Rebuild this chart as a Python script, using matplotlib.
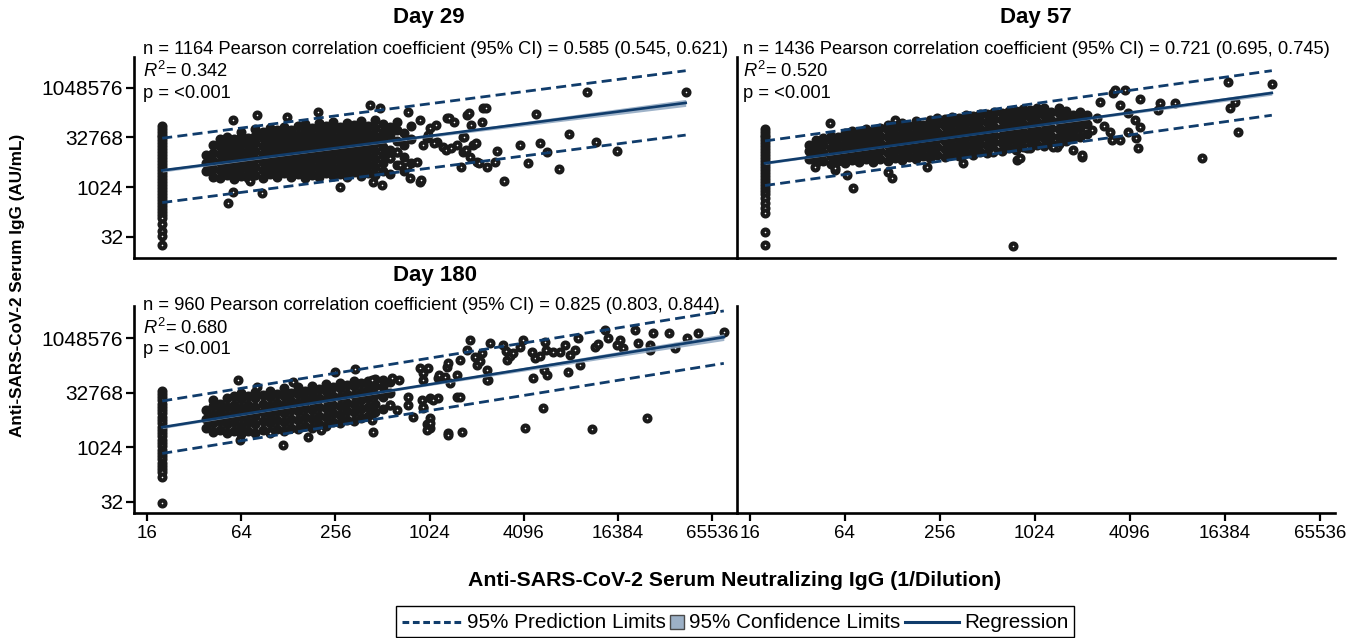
import matplotlib.pyplot as plt
import numpy as np
from matplotlib.lines import Line2D
from matplotlib.patches import Rectangle
from matplotlib.ticker import NullLocator

plt.rcParams['font.family'] = ['Liberation Sans', 'DejaVu Sans']
plt.rcParams['mathtext.fontset'] = 'custom'
plt.rcParams['mathtext.rm'] = 'Liberation Sans'
plt.rcParams['mathtext.it'] = 'Liberation Sans:italic'

LINE = '#103c6b'
BAND = '#8ea6c0'
DOT = '#1b1b1b'

x_ticks = [16, 64, 256, 1024, 4096, 16384, 65536]
y_ticks = [32, 1024, 32768, 1048576]

# all values below are log2 titres
lloq_log2 = 4.32  # neutralizing titre 20 (LLOQ column)

# ---- Day 29
d29_lloq_igg = [16.2, 15.9, 15.6, 15.3, 15.0, 14.7, 14.4, 14.1, 13.8, 13.5, 13.2, 12.9,
                12.6, 12.3, 12.0, 11.7, 11.4, 11.1, 10.8, 10.5, 10.2, 9.9, 9.6, 9.3,
                9.0, 8.7, 8.4, 8.1, 7.8, 7.5, 7.2, 6.9, 6.3, 5.6, 5.1, 4.1]
d29_cloud = [
    (5.25, [11.6, 12.4, 13.2]),
    (5.40, [11.0, 11.8, 12.6, 13.4, 14.2]),
    (5.55, [10.9, 11.7, 12.5, 13.3, 14.1, 14.8]),
    (5.70, [11.2, 12.0, 12.8, 13.6, 14.4, 15.0]),
    (5.85, [10.8, 11.6, 12.4, 13.2, 14.0, 14.8]),
    (6.00, [11.1, 11.9, 12.7, 13.5, 14.3, 15.1, 15.6]),
    (6.15, [10.9, 11.7, 12.5, 13.3, 14.1, 14.9]),
    (6.30, [11.2, 12.0, 12.8, 13.6, 14.4, 15.2, 15.9]),
    (6.45, [10.9, 11.7, 12.5, 13.3, 14.1, 14.9, 15.6]),
    (6.60, [11.3, 12.1, 12.9, 13.7, 14.5, 15.3, 16.0]),
    (6.75, [11.0, 11.8, 12.6, 13.4, 14.2, 15.0, 15.8]),
    (6.90, [11.4, 12.2, 13.0, 13.8, 14.6, 15.4, 16.1]),
    (7.05, [11.0, 11.8, 12.6, 13.4, 14.2, 15.0, 15.8]),
    (7.20, [11.3, 12.1, 12.9, 13.7, 14.5, 15.3, 16.2]),
    (7.35, [10.9, 11.7, 12.5, 13.3, 14.1, 14.9, 15.7, 16.4]),
    (7.50, [11.2, 12.0, 12.8, 13.6, 14.4, 15.2, 16.0]),
    (7.65, [11.0, 11.8, 12.6, 13.4, 14.2, 15.0, 15.8, 16.5]),
    (7.80, [11.4, 12.2, 13.0, 13.8, 14.6, 15.4, 16.2]),
    (7.95, [11.1, 11.9, 12.7, 13.5, 14.3, 15.1, 15.9, 16.6]),
    (8.10, [11.3, 12.1, 12.9, 13.7, 14.5, 15.3, 16.1]),
    (8.25, [11.0, 11.8, 12.6, 13.4, 14.2, 15.0, 15.8, 16.5]),
    (8.40, [11.5, 12.3, 13.1, 13.9, 14.7, 15.5, 16.3]),
    (8.55, [11.1, 11.9, 12.7, 13.5, 14.3, 15.1, 15.9, 16.7]),
    (8.70, [11.4, 12.2, 13.0, 13.8, 14.6, 15.4, 16.2]),
    (8.85, [11.2, 12.0, 12.8, 13.6, 14.4, 15.2, 16.0, 16.8]),
    (9.00, [11.6, 12.4, 13.2, 14.0, 14.8, 15.6, 16.4]),
    (9.15, [11.3, 12.9, 13.7, 15.3, 16.1]),
    (9.30, [12.2, 13.5, 14.6, 15.8, 16.6]),
    (9.45, [11.6, 13.0, 14.2, 15.5]),
    (9.60, [12.4, 14.8, 16.2]),
]
d29_scattered = [
    (5.83, 16.76), (6.34, 17.26), (6.97, 17.06), (7.63, 17.57), (8.73, 18.28),
    (8.95, 17.97), (9.54, 17.57), (6.19, 10.6), (5.72, 8.35), (5.83, 9.46),
    (6.44, 9.36), (8.10, 9.97), (8.80, 10.48), (8.99, 10.17), (9.58, 10.88),
    (9.80, 10.48), (9.80, 16.76), (10.0, 15.95), (10.37, 16.96), (10.79, 17.26),
    (11.13, 17.97), (10.71, 15.04), (10.16, 14.53), (10.28, 14.02), (10.58, 14.22),
    (10.92, 14.22), (10.71, 13.52), (10.86, 13.01), (11.0, 12.5), (11.22, 12.0),
    (9.86, 14.22), (9.94, 14.93), (9.73, 12.5), (9.52, 12.0), (9.16, 12.91),
    (9.31, 13.52), (9.37, 12.2), (10.13, 16.26), (10.41, 16.97), (10.51, 16.57),
    (10.83, 17.47), (10.87, 16.26), (11.12, 16.57), (11.19, 17.98), (9.96, 15.25),
    (10.09, 14.44), (10.34, 13.74), (10.45, 13.94), (10.72, 15.05), (10.77, 13.74),
    (10.98, 14.44), (11.04, 12.42), (11.38, 12.53), (11.44, 13.64), (11.57, 10.61),
    (9.81, 10.71), (10.66, 12.02), (11.91, 14.24), (12.08, 12.42), (12.27, 17.37),
    (12.35, 14.44), (12.50, 13.54), (12.75, 11.82), (12.96, 15.35), (13.34, 19.6),
    (13.53, 14.55), (13.98, 13.64), (15.44, 19.6),
]
d29_fit = (9.03, 0.613)      # intercept, slope
d29_pi = 3.25                # half width of prediction limits
d29_n, d29_xbar, d29_xsd = 1164, 7.6, 2.2
d29_text = ['n = 1164 Pearson correlation coefficient (95% CI) = 0.585 (0.545, 0.621)',
            '$\\mathit{R}^2$= 0.342', 'p = <0.001']

# ---- Day 57
d57_lloq_igg = [15.9, 15.6, 15.3, 15.0, 14.7, 14.4, 14.1, 13.8, 13.5, 13.2, 12.9, 12.6,
                12.3, 12.0, 11.7, 11.4, 11.1, 10.8, 10.5, 10.2, 9.9, 9.6, 9.3, 8.9,
                8.4, 7.9, 7.4, 5.5, 4.1]
d57_cloud = [
    (5.25, [12.8, 13.6, 14.2]),
    (5.40, [12.4, 13.2, 14.0, 14.7]),
    (5.55, [12.6, 13.4, 14.2, 14.9]),
    (5.70, [12.3, 13.1, 13.9, 14.7, 15.2]),
    (5.85, [12.6, 13.4, 14.2, 15.0]),
    (6.00, [12.4, 13.2, 14.0, 14.8, 15.5]),
    (6.15, [12.7, 13.5, 14.3, 15.1, 15.7]),
    (6.30, [12.5, 13.3, 14.1, 14.9, 15.6]),
    (6.45, [12.8, 13.6, 14.4, 15.2, 15.9]),
    (6.60, [12.5, 13.3, 14.1, 14.9, 15.7]),
    (6.75, [12.8, 13.6, 14.4, 15.2, 16.0]),
    (6.90, [12.6, 13.4, 14.2, 15.0, 15.8, 16.3]),
    (7.05, [12.9, 13.7, 14.5, 15.3, 16.1]),
    (7.20, [12.7, 13.5, 14.3, 15.1, 15.9, 16.5]),
    (7.35, [13.0, 13.8, 14.6, 15.4, 16.2]),
    (7.50, [12.8, 13.6, 14.4, 15.2, 16.0, 16.7]),
    (7.65, [13.1, 13.9, 14.7, 15.5, 16.3]),
    (7.80, [12.9, 13.7, 14.5, 15.3, 16.1, 16.8]),
    (7.95, [13.2, 14.0, 14.8, 15.6, 16.4, 17.0]),
    (8.10, [13.0, 13.8, 14.6, 15.4, 16.2, 16.9]),
    (8.25, [13.3, 14.1, 14.9, 15.7, 16.5, 17.1]),
    (8.40, [13.1, 13.9, 14.7, 15.5, 16.3, 17.0]),
    (8.55, [13.4, 14.2, 15.0, 15.8, 16.6, 17.3]),
    (8.70, [13.2, 14.0, 14.8, 15.6, 16.4, 17.2]),
    (8.85, [13.5, 14.3, 15.1, 15.9, 16.7, 17.4]),
    (9.00, [13.4, 14.2, 15.0, 15.8, 16.6, 17.4]),
    (9.15, [13.7, 14.5, 15.3, 16.1, 16.9, 17.6]),
    (9.30, [13.6, 14.4, 15.2, 16.0, 16.8, 17.5]),
    (9.45, [13.9, 14.7, 15.5, 16.3, 17.1, 17.7]),
    (9.60, [13.7, 14.5, 15.3, 16.1, 16.9, 17.7]),
    (9.75, [14.0, 14.8, 15.6, 16.4, 17.2, 17.9]),
    (9.90, [13.9, 14.7, 15.5, 16.3, 17.1, 17.8]),
    (10.05, [14.2, 15.0, 15.8, 16.6, 17.4, 18.0]),
    (10.20, [14.1, 14.9, 15.7, 16.5, 17.3, 18.0]),
    (10.35, [14.4, 15.2, 16.0, 16.8, 17.6]),
    (10.50, [14.3, 15.1, 15.9, 16.7, 17.5, 18.0]),
    (10.65, [14.6, 15.4, 16.2, 17.0, 17.7]),
    (10.80, [14.9, 15.7, 16.5, 17.3]),
    (10.95, [15.1, 16.0, 16.8, 17.6]),
    (11.10, [15.4, 16.4, 17.3]),
]
d57_scattered = [
    (5.68, 16.45), (5.37, 12.0), (5.79, 11.7), (6.04, 11.2), (6.17, 9.87),
    (6.90, 11.5), (6.99, 10.9), (7.05, 16.76), (7.73, 12.0), (8.48, 12.4),
    (9.62, 12.7), (11.0, 13.0), (10.8, 13.7), (10.46, 14.0), (9.12, 13.5),
    (9.54, 4.09), (11.37, 18.6), (11.64, 19.5), (11.79, 18.3), (11.58, 15.54),
    (11.79, 14.73), (11.96, 15.54), (11.68, 19.8), (11.90, 19.8), (12.21, 18.9),
    (12.63, 18.5), (12.95, 18.5), (12.59, 17.8), (11.62, 14.73), (11.96, 17.47),
    (12.10, 16.76), (12.21, 16.05), (12.13, 14.93), (12.17, 13.92), (10.99, 13.2),
    (11.20, 15.74), (13.52, 12.9), (14.06, 20.6), (14.10, 17.97), (14.21, 18.58),
    (14.27, 15.54), (14.99, 20.4), (10.38, 14.0), (9.83, 13.9), (9.68, 12.9),
    (5.79, 11.9), (11.3, 17.0), (11.45, 16.2),
]
d57_fit = (9.53, 0.665)
d57_pi = 2.25
d57_n, d57_xbar, d57_xsd = 1436, 7.8, 2.0
d57_text = ['n = 1436 Pearson correlation coefficient (95% CI) = 0.721 (0.695, 0.745)',
            '$\\mathit{R}^2$= 0.520', 'p = <0.001']

# ---- Day 180
d180_lloq_igg = [15.2, 14.9, 14.6, 14.3, 14.0, 13.7, 13.4, 13.1, 12.8, 12.5, 12.2, 11.9,
                 11.6, 11.3, 11.0, 10.7, 10.4, 10.1, 9.8, 9.5, 9.2, 8.9, 8.6, 8.3,
                 8.0, 7.7, 7.3, 4.9]
d180_cloud = [
    (5.25, [11.8, 12.6, 13.4]),
    (5.40, [11.4, 12.2, 13.0, 13.8, 14.3]),
    (5.55, [11.6, 12.4, 13.2, 14.0]),
    (5.70, [11.3, 12.1, 12.9, 13.7, 14.5]),
    (5.85, [11.5, 12.3, 13.1, 13.9, 14.7]),
    (6.00, [11.2, 12.0, 12.8, 13.6, 14.4, 15.0]),
    (6.15, [11.5, 12.3, 13.1, 13.9, 14.7]),
    (6.30, [11.3, 12.1, 12.9, 13.7, 14.5, 15.1]),
    (6.45, [11.6, 12.4, 13.2, 14.0, 14.8]),
    (6.60, [11.4, 12.2, 13.0, 13.8, 14.6, 15.2]),
    (6.75, [11.7, 12.5, 13.3, 14.1, 14.9]),
    (6.90, [11.5, 12.3, 13.1, 13.9, 14.7, 15.4]),
    (7.05, [11.8, 12.6, 13.4, 14.2, 15.0]),
    (7.20, [11.7, 12.5, 13.3, 14.1, 14.9, 15.5]),
    (7.35, [12.0, 12.8, 13.6, 14.4, 15.2]),
    (7.50, [11.8, 12.6, 13.4, 14.2, 15.0, 15.6]),
    (7.65, [12.1, 12.9, 13.7, 14.5, 15.3]),
    (7.80, [12.0, 12.8, 13.6, 14.4, 15.2, 15.8]),
    (7.95, [12.3, 13.1, 13.9, 14.7, 15.5]),
    (8.10, [12.2, 13.0, 13.8, 14.6, 15.4, 15.9]),
    (8.25, [12.5, 13.3, 14.1, 14.9, 15.7]),
    (8.40, [12.4, 13.2, 14.0, 14.8, 15.6, 16.1]),
    (8.55, [12.7, 13.5, 14.3, 15.1, 15.9]),
    (8.70, [12.9, 13.7, 14.5, 15.3, 16.1]),
    (8.85, [13.2, 14.0, 14.8, 15.6, 16.3]),
    (9.00, [13.5, 14.6, 15.5, 16.2]),
    (9.15, [13.9, 15.0, 16.0]),
]
d180_scattered = [
    (5.93, 16.16), (6.34, 15.52), (7.10, 15.97), (7.99, 16.9), (8.42, 17.2),
    (8.78, 16.16), (9.20, 16.34), (9.35, 16.2), (9.80, 17.26), (9.85, 16.8),
    (10.18, 16.34), (10.37, 17.35), (10.58, 16.6), (11.0, 17.5), (11.07, 17.9),
    (11.22, 17.07), (11.64, 18.0), (11.70, 18.4), (5.97, 10.67), (6.61, 11.3),
    (6.89, 10.2), (7.42, 10.94), (7.70, 11.6), (8.78, 12.5), (8.80, 11.4),
    (9.16, 13.87), (9.30, 13.4), (9.54, 14.6), (9.55, 13.9), (9.65, 12.77),
    (9.84, 14.33), (9.86, 13.6), (10.01, 14.5), (10.0, 12.7), (10.18, 14.5),
    (10.0, 11.77), (9.95, 12.1), (10.39, 11.3), (10.69, 11.4), (10.58, 14.6),
    (11.24, 16.16), (10.86, 19.82), (10.80, 18.9), (10.65, 18.0), (10.40, 17.7),
    (10.33, 16.43), (9.97, 17.26), (9.86, 16.2), (10.20, 16.6), (10.43, 15.9),
    (10.96, 18.26), (11.11, 18.6), (11.28, 19.54), (11.22, 16.16), (10.65, 14.6),
    (10.07, 14.33), (9.86, 13.7), (10.0, 12.2), (9.94, 11.58), (10.39, 11.1),
    (11.56, 19.36), (11.63, 18.8), (11.77, 18.63), (11.92, 19.18), (11.98, 19.8),
    (12.17, 18.7), (12.24, 18.2), (12.34, 18.4), (12.45, 19.63), (12.48, 18.9),
    (12.62, 18.7), (12.76, 18.7), (12.87, 19.36), (12.98, 18.5), (13.09, 18.9),
    (13.15, 20.0), (13.19, 17.53), (12.94, 16.9), (12.49, 16.6), (12.42, 17.1),
    (12.20, 16.34), (12.03, 11.77), (12.41, 13.6), (13.51, 19.18), (13.58, 19.5),
    (13.72, 20.7), (13.79, 20.0), (13.98, 19.36), (14.04, 19.8), (14.10, 19.1),
    (14.36, 20.7), (14.42, 19.54), (14.68, 19.36), (14.74, 20.46), (14.68, 18.9),
    (15.08, 20.46), (15.21, 19.09), (15.46, 20.0), (15.70, 20.46), (16.25, 20.55),
    (13.45, 11.67), (14.62, 12.68),
]
d180_fit = (8.86, 0.691)
d180_pi = 2.4
d180_n, d180_xbar, d180_xsd = 960, 7.5, 2.3
d180_text = ['n = 960 Pearson correlation coefficient (95% CI) = 0.825 (0.803, 0.844)',
             '$\\mathit{R}^2$= 0.680', 'p = <0.001']

legend_labels = ['95% Prediction Limits', '95% Confidence Limits', 'Regression']

W, H = 1349, 638


def box(left, top, right, bottom):
    return [left / W, 1 - bottom / H, (right - left) / W, (bottom - top) / H]


def fx(px):
    return px / W


def fy(py):
    return 1 - py / H


def draw_panel(ax, lloq_igg, cloud, scattered, fit, pi_hw, n, xbar, xsd):
    qx = np.full(len(lloq_igg), lloq_log2)
    qy = np.array(lloq_igg)
    cx = np.concatenate([[x] * len(col) for x, col in cloud])
    cy = np.concatenate([col for _, col in cloud])
    sx = np.array([p[0] for p in scattered])
    sy = np.array([p[1] for p in scattered])
    marker = dict(s=18, edgecolor=DOT, linewidths=3.0, zorder=2, clip_on=False)
    # inside the main cloud the overlapping rings read as solid black
    ax.scatter(2.0 ** cx, 2.0 ** cy, facecolor=DOT, **marker)
    ax.scatter(2.0 ** qx, 2.0 ** qy, facecolor='white', **marker)
    ax.scatter(2.0 ** sx, 2.0 ** sy, facecolor='white', **marker)
    lx = np.concatenate([qx, cx, sx])
    xx = np.linspace(lx.min(), lx.max(), 200)
    yy = fit[0] + fit[1] * xx
    ci = pi_hw * np.sqrt(1 / n + (xx - xbar) ** 2 / (n * xsd ** 2))
    ax.fill_between(2 ** xx, 2 ** (yy - ci), 2 ** (yy + ci), color=BAND, alpha=0.85,
                    lw=0, zorder=3)
    ax.plot(2 ** xx, 2 ** yy, color=LINE, lw=1.9, zorder=4)
    for sign in (-1, 1):
        ax.plot(2 ** xx, 2 ** (yy + sign * pi_hw), color=LINE, lw=2.0,
                dashes=(3.6, 1.9), zorder=4)


def setup(ax, xlim, ylim, show_x, show_y):
    ax.set_xscale('log', base=2)
    ax.set_yscale('log', base=2)
    ax.set_xlim(2 ** xlim[0], 2 ** xlim[1])
    ax.set_ylim(2 ** ylim[0], 2 ** ylim[1])
    for side in ('top', 'right'):
        ax.spines[side].set_visible(False)
    for side in ('left', 'bottom'):
        ax.spines[side].set_linewidth(1.9)
    ax.set_xticks(x_ticks)
    ax.set_xticklabels([str(t) for t in x_ticks])
    ax.set_yticks(y_ticks)
    ax.set_yticklabels([str(t) for t in y_ticks])
    ax.xaxis.set_minor_locator(NullLocator())
    ax.yaxis.set_minor_locator(NullLocator())
    ax.tick_params(axis='x', bottom=show_x, labelbottom=show_x, length=6, width=1.6,
                   labelsize=13.5, pad=3)
    ax.tick_params(axis='y', left=show_y, labelleft=show_y, length=6, width=1.6,
                   labelsize=15, pad=2)
    ax.patch.set_alpha(0)


fig = plt.figure(figsize=(W / 100, H / 100), dpi=100)
ax1 = fig.add_axes(box(134, 57, 737, 258))
ax2 = fig.add_axes(box(737, 57, 1335, 258))
ax3 = fig.add_axes(box(134, 306, 737, 513))
ax4 = fig.add_axes(box(737, 306, 1335, 513))

left_x = (3.72, 16.53)
right_x = (3.73, 16.32)
top_y = (2.83, 23.13)
bottom_y = (3.99, 22.94)

setup(ax1, left_x, top_y, False, True)
setup(ax2, right_x, top_y, False, False)
setup(ax3, left_x, bottom_y, True, True)
setup(ax4, right_x, bottom_y, True, False)

draw_panel(ax1, d29_lloq_igg, d29_cloud, d29_scattered, d29_fit, d29_pi,
           d29_n, d29_xbar, d29_xsd)
draw_panel(ax2, d57_lloq_igg, d57_cloud, d57_scattered, d57_fit, d57_pi,
           d57_n, d57_xbar, d57_xsd)
draw_panel(ax3, d180_lloq_igg, d180_cloud, d180_scattered, d180_fit, d180_pi,
           d180_n, d180_xbar, d180_xsd)

fig.text(fx(429), fy(18), 'Day 29', ha='center', va='center', fontsize=16, fontweight='bold')
fig.text(fx(1036), fy(18), 'Day 57', ha='center', va='center', fontsize=16, fontweight='bold')
fig.text(fx(435), fy(275), 'Day 180', ha='center', va='center', fontsize=16, fontweight='bold')

for px, ys, lines in [(143, (49, 71, 94), d29_text), (743, (49, 71, 94), d57_text),
                      (143, (306, 328, 350), d180_text)]:
    for py, s in zip(ys, lines):
        fig.text(fx(px), fy(py), s, ha='left', va='center', fontsize=13.2)

fig.text(fx(735), fy(580), 'Anti-SARS-CoV-2 Serum Neutralizing IgG (1/Dilution)',
         ha='center', va='center', fontsize=15.3, fontweight='bold')
fig.text(fx(18), fy(285), 'Anti-SARS-CoV-2 Serum IgG (AU/mL)', ha='center', va='center',
         fontsize=12.3, fontweight='bold', rotation=90)

# legend laid out by hand so the handles sit as tight as in the original
renderer = fig.canvas.get_renderer()
ly_leg = fy(622)
leg_texts = [fig.text(0, ly_leg, s, ha='left', va='center', fontsize=14.9)
             for s in legend_labels]
widths = [t.get_window_extent(renderer).width for t in leg_texts]
dash_w, sq_w, line_w, gap, pad = 60, 13, 54, 5, 6
total = (pad + dash_w + gap + widths[0] + gap + sq_w + gap + widths[1] + gap
         + line_w + gap + widths[2] + pad)
x = 735 - total / 2
fig.patches.append(Rectangle((fx(x), fy(637)), total / W, fy(606) - fy(637),
                             transform=fig.transFigure, facecolor='white',
                             edgecolor='black', lw=1.0, zorder=0))
x += pad
fig.add_artist(Line2D([fx(x), fx(x + dash_w)], [ly_leg, ly_leg], transform=fig.transFigure,
                      color=LINE, lw=2.2, dashes=(2.2, 1.2)))
x += dash_w + gap
leg_texts[0].set_x(fx(x))
x += widths[0] + gap
fig.add_artist(Line2D([fx(x + sq_w / 2)], [ly_leg], transform=fig.transFigure, marker='s',
                      markersize=9.5, markerfacecolor='#9cb0c6',
                      markeredgecolor='#4a4a4a', ls='none'))
x += sq_w + gap
leg_texts[1].set_x(fx(x))
x += widths[1] + gap
fig.add_artist(Line2D([fx(x), fx(x + line_w)], [ly_leg, ly_leg], transform=fig.transFigure,
                      color=LINE, lw=2.2))
x += line_w + gap
leg_texts[2].set_x(fx(x))

fig.savefig('out.png', dpi=100)
